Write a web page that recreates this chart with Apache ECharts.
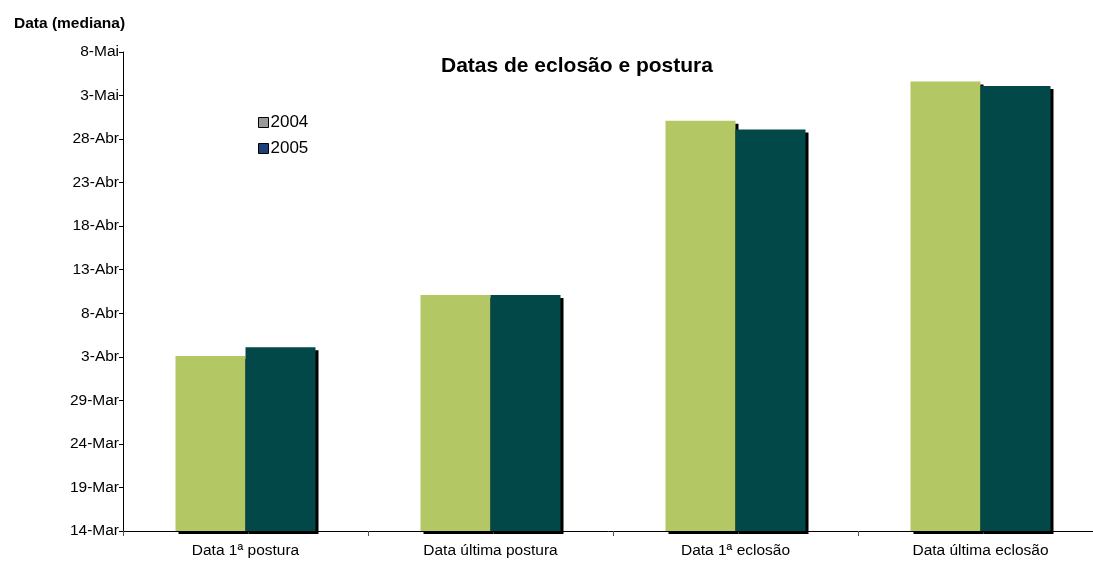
<!DOCTYPE html>
<html><head><meta charset="utf-8">
<script src="https://cdn.jsdelivr.net/npm/echarts@6/dist/echarts.min.js"></script>
<style>html,body{margin:0;padding:0;background:#fff}#c{width:1093px;height:561px}</style>
</head><body><div id="c"></div>
<script>
// categories
var categories = ['Data 1ª postura', 'Data última postura', 'Data 1ª eclosão', 'Data última eclosão'];
// values: days after 14-Mar
var values2004 = [20.1, 27.1, 47.1, 51.6];
var values2005 = [21.1, 27.1, 46.1, 51.1];
// y tick labels (every 5 days starting 14-Mar)
var tickLabels = ['14-Mar','19-Mar','24-Mar','29-Mar','3-Abr','8-Abr','13-Abr','18-Abr','23-Abr','28-Abr','3-Mai','8-Mai'];
var seriesNames = ['2004', '2005'];

var font = 'Liberation Sans, Arial, sans-serif';
var chart = echarts.init(document.getElementById('c'));
var barStyle = function(c){ return {color:c, shadowColor:'#000', shadowBlur:0, shadowOffsetX:3, shadowOffsetY:3}; };
chart.setOption({
  animation:false,
  title:[
    {text:'Datas de eclosão e postura', left:436, top:51, textStyle:{fontFamily:font, fontSize:21, fontWeight:'bold', color:'#000'}},
    {text:'Data (mediana)', left:9, top:11, textStyle:{fontFamily:font, fontSize:15.5, fontWeight:'bold', color:'#000'}}
  ],
  legend:{
    orient:'vertical', left:253, top:109, itemWidth:10, itemHeight:10, itemGap:9, icon:'rect',
    textStyle:{fontFamily:font, fontSize:17, color:'#000', padding:[0,0,0,-3]},
    data:[
      {name:seriesNames[0], itemStyle:{color:'#999999', borderColor:'#000', borderWidth:1}},
      {name:seriesNames[1], itemStyle:{color:'#1F3F7A', borderColor:'#000', borderWidth:1}}
    ]
  },
  grid:{left:123, top:52, width:980, height:479, containLabel:false, outerBoundsMode:'none'},
  xAxis:{
    type:'category', data:categories,
    axisLine:{lineStyle:{color:'#000', width:1}},
    axisTick:{show:true, length:5, lineStyle:{color:'#555'}},
    axisLabel:{fontFamily:font, fontSize:15.5, color:'#000', margin:12}
  },
  yAxis:{
    type:'value', min:0, max:55, interval:5,
    splitLine:{show:false},
    axisLine:{show:true, lineStyle:{color:'#000'}},
    axisTick:{show:true, length:4, lineStyle:{color:'#000'}},
    axisLabel:{fontFamily:font, fontSize:15.5, color:'#000', margin:4,
      formatter:function(v){ return tickLabels[Math.round(v/5)]; }}
  },
  series:[
    {name:seriesNames[0], type:'bar', data:values2004, barWidth:70, barGap:'0%', itemStyle:barStyle('#B3C864')},
    {name:seriesNames[1], type:'bar', data:values2005, barWidth:70, barGap:'0%', itemStyle:barStyle('#024848')}
  ]
});
</script></body></html>
